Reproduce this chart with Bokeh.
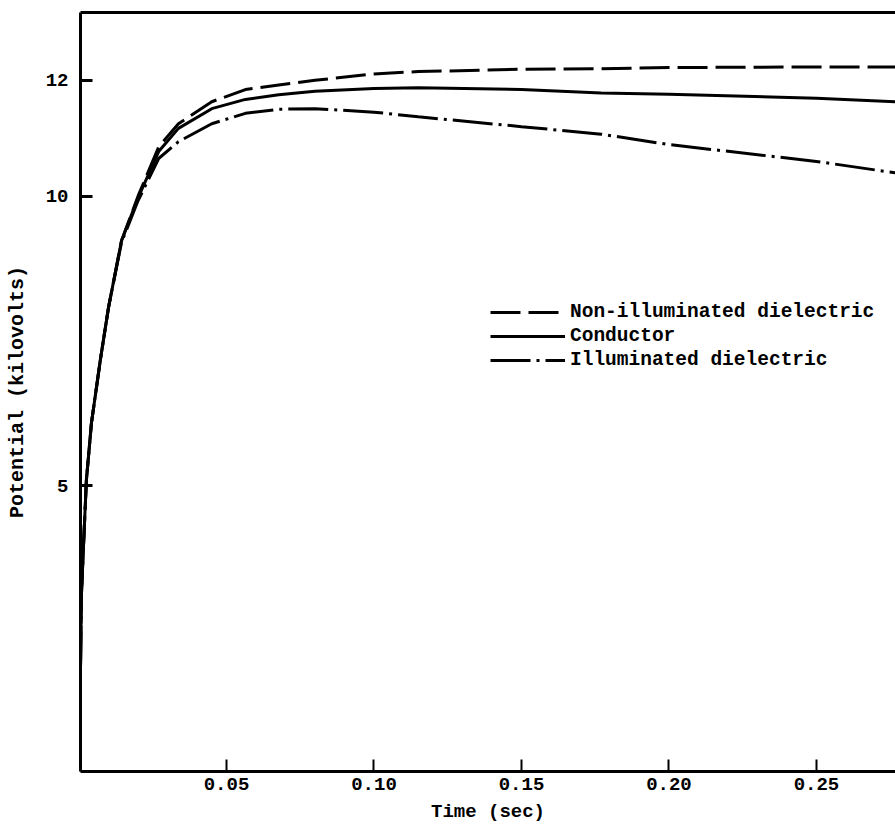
from bokeh.plotting import figure
from bokeh.models import (Range1d, FixedTicker, LinearAxis, Legend, LegendItem)
from bokeh.embed import file_html
from bokeh.resources import INLINE

# Time (sec)
time = [0.0, 0.0003, 0.0008, 0.0015, 0.0025, 0.0042, 0.0073, 0.010, 0.0144, 0.020,
        0.027, 0.0337, 0.045, 0.0564, 0.0677, 0.08, 0.10, 0.115, 0.15, 0.177,
        0.20, 0.25, 0.277]
# Potential (kilovolts)
non_illuminated = [0.0, 1.0, 3.1, 3.95, 5.1, 6.08, 7.2, 8.08, 9.23, 10.0,
                   10.85, 11.25, 11.63, 11.84, 11.92, 12.0, 12.11, 12.15, 12.19, 12.2,
                   12.22, 12.23, 12.23]
conductor = [0.0, 1.0, 3.1, 3.95, 5.1, 6.08, 7.2, 8.08, 9.23, 9.97,
             10.77, 11.17, 11.51, 11.67, 11.75, 11.81, 11.86, 11.87, 11.84, 11.78,
             11.76, 11.69, 11.63]
illuminated = [0.0, 1.0, 3.1, 3.95, 5.1, 6.08, 7.2, 8.08, 9.2, 9.92,
               10.65, 10.94, 11.25, 11.43, 11.5, 11.51, 11.45, 11.37, 11.2, 11.07,
               10.89, 10.6, 10.4]

x_ticks = [0.05, 0.10, 0.15, 0.20, 0.25]
x_tick_labels = ["0.05", "0.10", "0.15", "0.20", "0.25"]
y_ticks = [5, 10, 12]
series_names = ["Non-illuminated dielectric", "Conductor", "Illuminated dielectric"]

FONT = "Liberation Mono"

p = figure(width=895, height=825, output_backend="svg", toolbar_location=None,
           x_range=Range1d(0.0005, 0.2768), y_range=Range1d(0.07, 13.17),
           min_border_left=80, min_border_right=0, min_border_top=12, min_border_bottom=0)
p.outline_line_color = None
p.grid.visible = False
p.background_fill_color = "white"
p.border_fill_color = "white"

# axes styling
xa = p.xaxis[0]
xa.ticker = FixedTicker(ticks=x_ticks)
xa.major_label_overrides = {t: l for t, l in zip(x_ticks, x_tick_labels)}
xa.axis_line_width = 3
xa.major_tick_in = 12
xa.major_tick_out = 0
xa.major_tick_line_width = 2
xa.minor_tick_line_color = None
xa.major_label_standoff = 6
xa.major_label_text_font = FONT
xa.major_label_text_font_style = "bold"
xa.major_label_text_font_size = "19px"
xa.major_label_text_color = "black"
xa.axis_label = "Time (sec)"
xa.axis_label_text_font = FONT
xa.axis_label_text_font_style = "bold"
xa.axis_label_text_font_size = "19px"
xa.axis_label_text_color = "black"
xa.axis_label_standoff = 8

ya = p.yaxis[0]
ya.ticker = FixedTicker(ticks=y_ticks)
ya.axis_line_width = 3
ya.major_tick_in = 12
ya.major_tick_out = 0
ya.major_tick_line_width = 3
ya.minor_tick_line_color = None
ya.major_label_standoff = 12
ya.major_label_text_font = FONT
ya.major_label_text_font_style = "bold"
ya.major_label_text_font_size = "19px"
ya.major_label_text_color = "black"
ya.axis_label = "Potential (kilovolts)"
ya.axis_label_text_font = FONT
ya.axis_label_text_font_style = "bold"
ya.axis_label_text_font_size = "20px"
ya.axis_label_text_color = "black"
ya.axis_label_standoff = 14

top = LinearAxis(ticker=FixedTicker(ticks=[]), axis_line_width=3,
                 major_tick_line_color=None, minor_tick_line_color=None,
                 major_label_text_font_size="0px")
p.add_layout(top, "above")

r1 = p.line(time, non_illuminated, line_color="black", line_width=3, line_dash="30 8")
r2 = p.line(time, conductor, line_color="black", line_width=3)
r3 = p.line(time, illuminated, line_color="black", line_width=3, line_dash="40 6 3 6")

legend = Legend(items=[LegendItem(label=series_names[0], renderers=[r1]),
                       LegendItem(label=series_names[1], renderers=[r2]),
                       LegendItem(label=series_names[2], renderers=[r3])],
                location=(410, 400), border_line_color=None, background_fill_alpha=0,
                glyph_width=75, glyph_height=18, spacing=2, padding=0, margin=0,
                label_standoff=5, label_text_font=FONT, label_text_font_style="bold",
                label_text_font_size="19.5px", label_text_color="black")
p.add_layout(legend, "center")

open("out.html", "w").write(file_html(p, INLINE))
